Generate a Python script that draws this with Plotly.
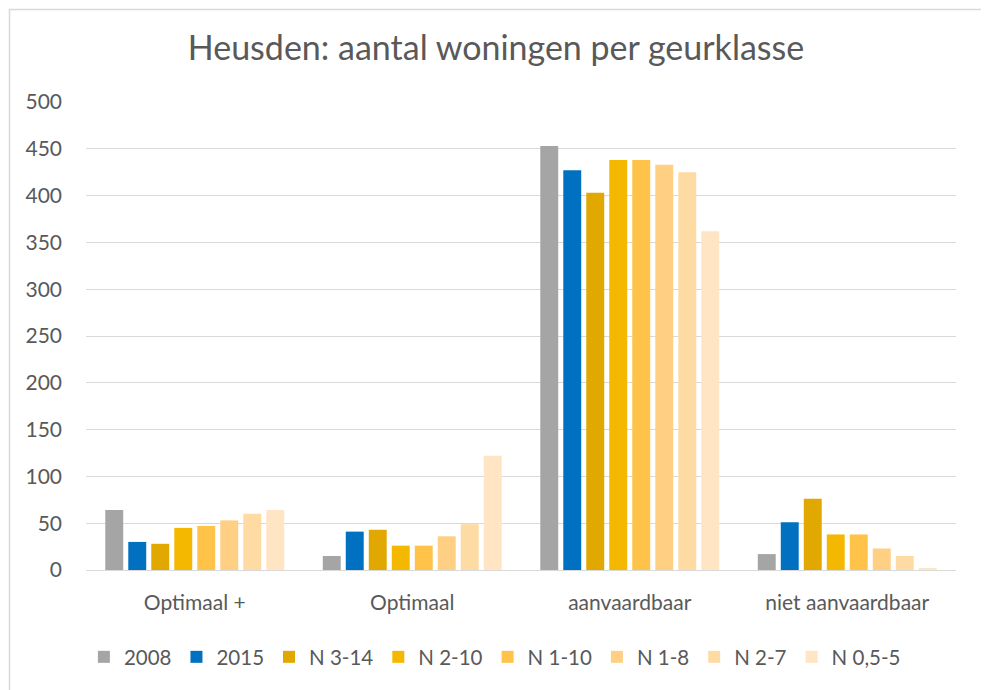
# imports
import plotly.graph_objects as go

# Heusden: aantal woningen per geurklasse
categories = ["Optimaal +", "Optimaal", "aanvaardbaar", "niet aanvaardbaar"]

series_names = ["2008", "2015", "N 3-14", "N 2-10", "N 1-10", "N 1-8", "N 2-7", "N 0,5-5"]

v_2008 = [64, 15, 453, 17]
v_2015 = [30, 41, 427, 51]
v_n3_14 = [28, 43, 403, 76]
v_n2_10 = [45, 26, 438, 38]
v_n1_10 = [47, 26, 438, 38]
v_n1_8 = [53, 36, 433, 23]
v_n2_7 = [60, 49, 425, 15]
v_n05_5 = [64, 122, 362, 2]

series_values = [v_2008, v_2015, v_n3_14, v_n2_10, v_n1_10, v_n1_8, v_n2_7, v_n05_5]

colors = ["#A5A5A5", "#0070C0", "#E0A800", "#F5B800", "#FFC34A", "#FFCF84", "#FFDBA4", "#FFE5C3"]

y_ticks = [0, 50, 100, 150, 200, 250, 300, 350, 400, 450, 500]

font_family = "Lato"
text_color = "#595959"
grid_color = "#D9D9D9"

fig = go.Figure()
for name, vals, col in zip(series_names, series_values, colors):
    fig.add_trace(go.Bar(name=name, x=categories, y=vals, marker_color=col,
                         marker_line_width=0))

# page body has an 8px margin -> figure starts at (8, 8)
OFF = 8
W, H = 989 - OFF, 690 - OFF
# plot area in page pixels: x 86..956, y 102..570
ml, mt = 86 - OFF, 102 - OFF
mr, mb = W - (956 - OFF), H - (570 - OFF)
pw, ph = W - ml - mr, H - mt - mb

fig.update_layout(
    width=W, height=H,
    margin=dict(l=ml, r=mr, t=mt, b=mb),
    barmode="group", bargap=0.154, bargroupgap=0.22,
    plot_bgcolor="white", paper_bgcolor="white",
    font=dict(family=font_family, color=text_color, size=21),
    title=dict(text="Heusden: aantal woningen per geurklasse",
               font=dict(family=font_family, size=34, color=text_color),
               x=(496 - OFF) / W, xanchor="center", xref="container",
               y=1 - (48 - OFF) / H, yanchor="middle", yref="container"),
    legend=dict(orientation="h", x=0.47, xanchor="center",
                y=-(657 - 570) / ph, yanchor="middle",
                font=dict(size=20.5, color=text_color),
                itemwidth=30, tracegroupgap=0),
    showlegend=True,
)

# x-axis
fig.update_xaxes(showgrid=False, showline=True, linecolor=grid_color, linewidth=1,
                 ticks="", ticklabelstandoff=14, tickfont=dict(size=21))

# y-axis
fig.update_yaxes(range=[0, 500], tickvals=y_ticks, showgrid=True, gridcolor=grid_color,
                 gridwidth=1, zeroline=False, showline=False, ticks="",
                 ticklabelstandoff=23, tickfont=dict(size=21))

# chart border (page pixels x 9..984, y 9..below bottom)
fig.add_shape(type="rect", xref="paper", yref="paper",
              x0=(9.5 - 86) / pw, x1=(984.5 - 86) / pw,
              y0=(570 - 700) / ph, y1=(570 - 9.5) / ph,
              line=dict(color=grid_color, width=1.5), fillcolor="rgba(0,0,0,0)",
              layer="below")

fig.write_html("out.html")
